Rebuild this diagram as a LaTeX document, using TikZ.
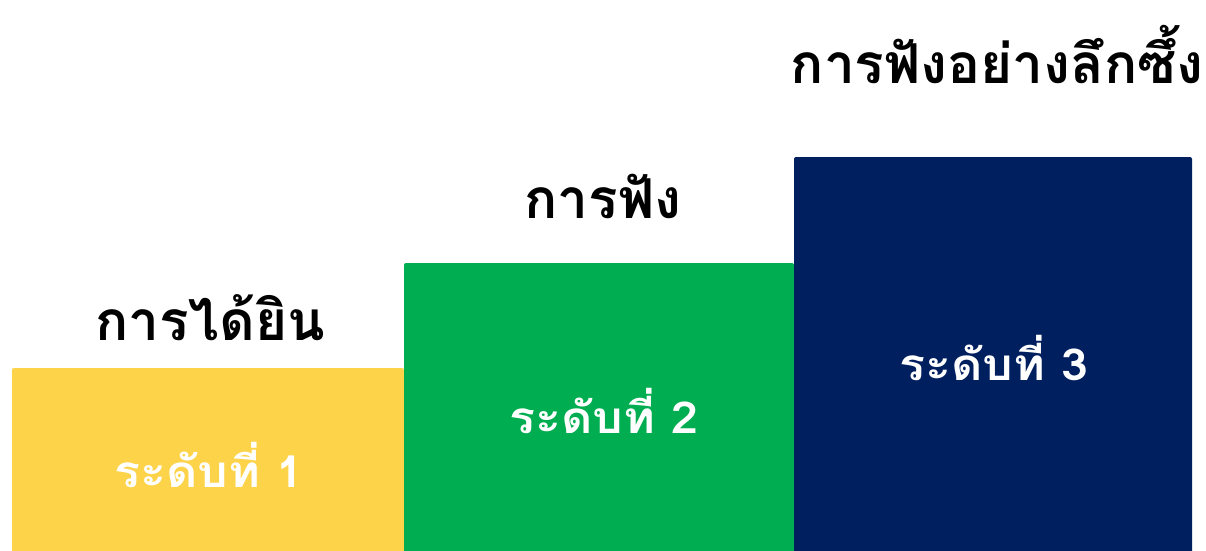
\documentclass[tikz,border=0pt]{standalone}
\usepackage{fontspec}
\newfontfamily\thaifont[Script=Thai]{Loma}
\definecolor{lvyellow}{HTML}{FDD34A}
\definecolor{lvgreen}{HTML}{00AD50}
\definecolor{lvnavy}{HTML}{001F5F}
\newcommand{\widebox}[1]{\scalebox{1.1}[1]{#1}}
\tikzset{
  boxtext/.style={text=white, font=\thaifont\bfseries\fontsize{44}{52}\selectfont, anchor=base, inner sep=0pt},
  headtext/.style={text=black, font=\thaifont\bfseries\fontsize{55}{66}\selectfont, anchor=base, inner sep=0pt}
}
\begin{document}
\begin{tikzpicture}[x=1pt,y=-1pt]
\useasboundingbox (0,0) rectangle (1206,550);
\fill[lvyellow, rounded corners=2pt] (12,368) rectangle (404,560);
\fill[lvgreen, rounded corners=2pt] (404,263) rectangle (794,560);
\fill[lvnavy, rounded corners=2pt] (794,157) rectangle (1192,560);
\node[boxtext] (t1) at (209,487) {\widebox{ระดับที่ 1}};
\node[boxtext] (t2) at (604,433) {\widebox{ระดับที่ 2}};
\node[boxtext] (t3) at (994,380) {\widebox{ระดับที่ 3}};
\node[headtext] (h1) at (210,340) {การได้ยิน};
\node[headtext] (h2) at (603,218) {การฟัง};
\node[headtext] (h3) at (997,83) {การฟังอย่างลึกซึ้ง};
\end{tikzpicture}
\end{document}
